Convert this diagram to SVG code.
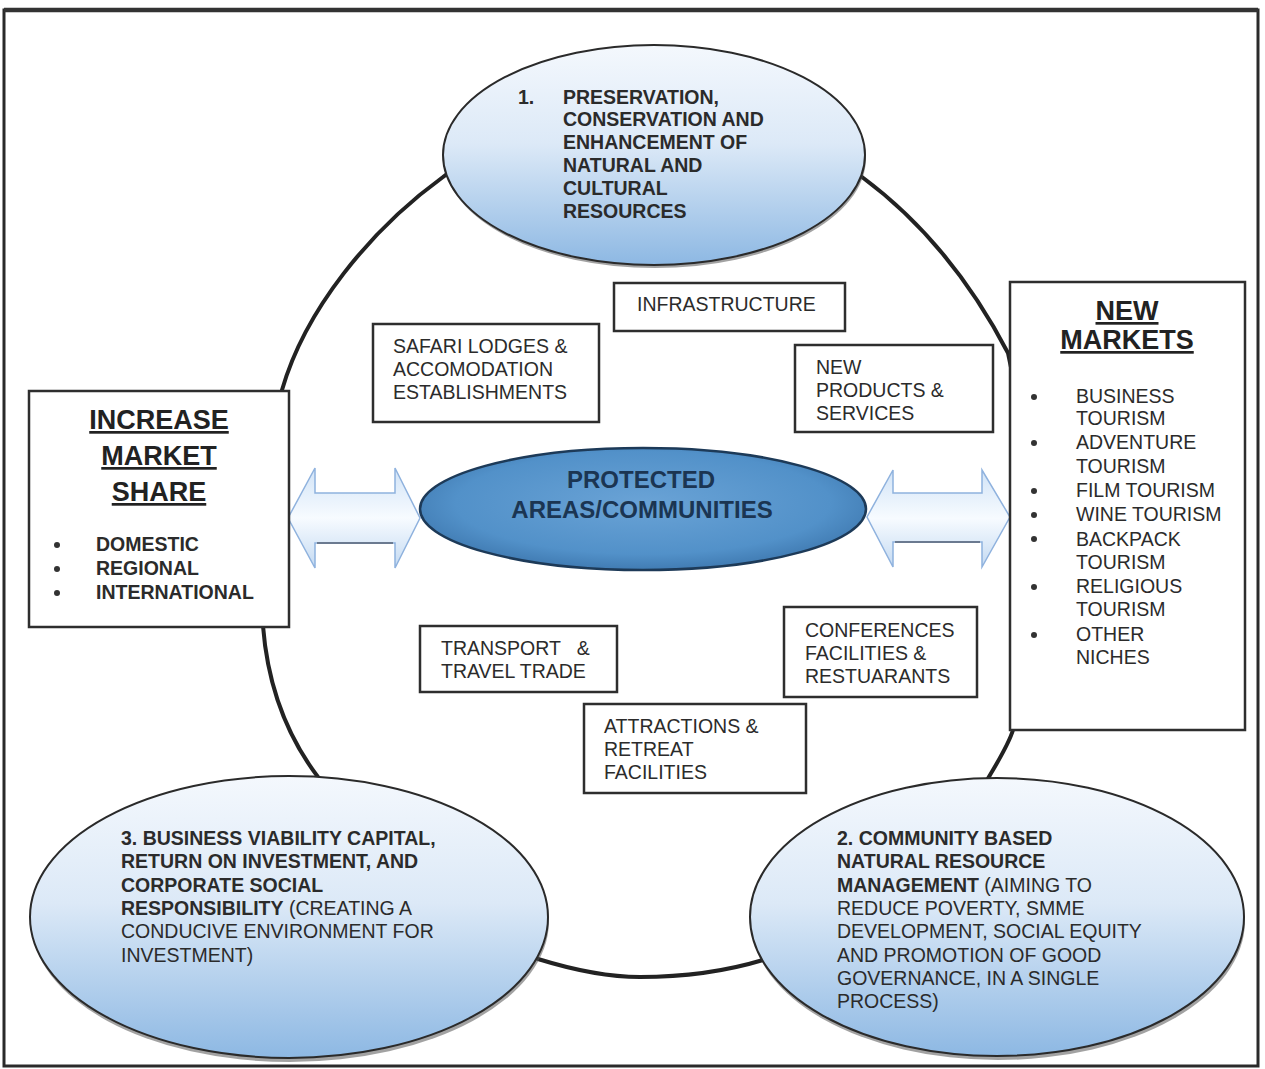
<svg xmlns="http://www.w3.org/2000/svg" width="1265" height="1069" viewBox="0 0 1265 1069">
<defs>
<linearGradient id="gOval" x1="0" y1="0" x2="0" y2="1">
<stop offset="0" stop-color="#f4f8fd"/>
<stop offset="0.45" stop-color="#dce9f7"/>
<stop offset="1" stop-color="#8db8e3"/>
</linearGradient>
<radialGradient id="gCenter" cx="0.5" cy="0.45" r="0.6">
<stop offset="0" stop-color="#6aa3d6"/>
<stop offset="0.7" stop-color="#5291c9"/>
<stop offset="1" stop-color="#3a73aa"/>
</radialGradient>
<linearGradient id="gArrow" x1="0" y1="0" x2="0" y2="1">
<stop offset="0" stop-color="#d2e4f7"/>
<stop offset="0.5" stop-color="#f7fbff"/>
<stop offset="1" stop-color="#c4daf2"/>
</linearGradient>
<style>
.t{font-family:"Liberation Sans",Arial,sans-serif;font-size:19.5px;fill:#2b2b2b}
.b{font-weight:bold}
.ttl{font-family:"Liberation Sans",Arial,sans-serif;font-size:27px;font-weight:bold;fill:#222;text-decoration:underline;text-anchor:middle}
.box{fill:#fff;stroke:#2e2e2e;stroke-width:2.5}
.oval{fill:url(#gOval);stroke:#2a2a2a;stroke-width:2}
.shadow{fill:#555;opacity:0.55}
.arrow{fill:url(#gArrow);stroke:#8fb2de;stroke-width:1.5}
.dot{fill:#333}
</style>
</defs>
<rect x="0" y="0" width="1265" height="1069" fill="#fff"/>
<rect x="4" y="10" width="1254" height="1056" fill="#fff" stroke="#2a2a2a" stroke-width="3"/>
<line x1="4" y1="10" x2="1258" y2="10" stroke="#333" stroke-width="4.5"/>

<g id="connectors">
<path d="M 443,177 C 370,230 305,310 282,390 C 268,440 256,540 263,626 C 268,690 290,740 318,777 C 380,860 460,930 538,959 C 580,972 610,977 640,977 C 690,977 730,970 763,960 C 850,930 950,850 990,775 C 1005,750 1010,740 1013,730 C 1030,600 1030,450 1008,353 C 970,280 920,220 862,177 C 760,100 540,100 443,177 Z" fill="none" stroke="#222" stroke-width="4"/>
<path id="arrow-left" class="arrow" d="M 288,518 L 315,468 L 315,493 L 395,493 L 395,468 L 420,518 L 395,568 L 395,543 L 315,543 L 315,568 Z"/>
<line x1="317" y1="543" x2="393" y2="543" stroke="#6b7a90" stroke-width="2"/>
<path id="arrow-right" class="arrow" d="M 867,517 L 893,470 L 893,493 L 982,493 L 982,470 L 1010,517 L 982,567 L 982,542 L 893,542 L 893,567 Z"/>
<line x1="895" y1="542" x2="980" y2="542" stroke="#6b7a90" stroke-width="2"/>
</g>

<g id="node-preservation">
<ellipse class="shadow" cx="655" cy="158" rx="211" ry="110"/>
<ellipse class="oval" cx="654" cy="155" rx="211" ry="110"/>
<text class="t b" x="518" y="104">1.</text>
<text class="t b" x="563" y="104">PRESERVATION,</text>
<text class="t b" x="563" y="126">CONSERVATION AND</text>
<text class="t b" x="563" y="149">ENHANCEMENT OF</text>
<text class="t b" x="563" y="172">NATURAL AND</text>
<text class="t b" x="563" y="195">CULTURAL</text>
<text class="t b" x="563" y="218">RESOURCES</text>
</g>

<g id="node-infrastructure">
<rect class="box" x="614" y="283" width="231" height="48"/>
<text class="t" x="637" y="311">INFRASTRUCTURE</text>
</g>

<g id="node-safari">
<rect class="box" x="373" y="324" width="226" height="98"/>
<text class="t" x="393" y="353">SAFARI LODGES &amp;</text>
<text class="t" x="393" y="376">ACCOMODATION</text>
<text class="t" x="393" y="399">ESTABLISHMENTS</text>
</g>

<g id="node-products">
<rect class="box" x="795" y="345" width="198" height="87"/>
<text class="t" x="816" y="374">NEW</text>
<text class="t" x="816" y="397">PRODUCTS &amp;</text>
<text class="t" x="816" y="420">SERVICES</text>
</g>

<g id="node-increase">
<rect class="box" x="29" y="391" width="260" height="236"/>
<text class="ttl" x="159" y="429" font-size="29">INCREASE</text>
<text class="ttl" x="159" y="465" font-size="29">MARKET</text>
<text class="ttl" x="159" y="501" font-size="29">SHARE</text>
<circle class="dot" cx="57" cy="545" r="3"/>
<circle class="dot" cx="57" cy="569" r="3"/>
<circle class="dot" cx="57" cy="593" r="3"/>
<text class="t b" x="96" y="551" font-size="18.5">DOMESTIC</text>
<text class="t b" x="96" y="575" font-size="18.5">REGIONAL</text>
<text class="t b" x="96" y="599" font-size="18.5">INTERNATIONAL</text>
</g>

<g id="node-new-markets">
<rect class="box" x="1010" y="282" width="235" height="448"/>
<text class="ttl" x="1127" y="320">NEW</text>
<text class="ttl" x="1127" y="349">MARKETS</text>
<circle class="dot" cx="1034" cy="397" r="3"/>
<circle class="dot" cx="1034" cy="443" r="3"/>
<circle class="dot" cx="1034" cy="491" r="3"/>
<circle class="dot" cx="1034" cy="515" r="3"/>
<circle class="dot" cx="1034" cy="539" r="3"/>
<circle class="dot" cx="1034" cy="587" r="3"/>
<circle class="dot" cx="1034" cy="635" r="3"/>
<text class="t" x="1076" y="403">BUSINESS</text>
<text class="t" x="1076" y="425">TOURISM</text>
<text class="t" x="1076" y="449">ADVENTURE</text>
<text class="t" x="1076" y="473">TOURISM</text>
<text class="t" x="1076" y="497">FILM TOURISM</text>
<text class="t" x="1076" y="521">WINE TOURISM</text>
<text class="t" x="1076" y="546">BACKPACK</text>
<text class="t" x="1076" y="569">TOURISM</text>
<text class="t" x="1076" y="593">RELIGIOUS</text>
<text class="t" x="1076" y="616">TOURISM</text>
<text class="t" x="1076" y="641">OTHER</text>
<text class="t" x="1076" y="664">NICHES</text>
</g>

<g id="node-protected">
<ellipse cx="643" cy="509" rx="223" ry="61" fill="url(#gCenter)" stroke="#1d3a58" stroke-width="2.5"/>
<text x="641" y="488" text-anchor="middle" font-family="'Liberation Sans',Arial,sans-serif" font-size="24" font-weight="bold" fill="#1b3552">PROTECTED</text>
<text x="642" y="518" text-anchor="middle" font-family="'Liberation Sans',Arial,sans-serif" font-size="24" font-weight="bold" fill="#1b3552">AREAS/COMMUNITIES</text>
</g>

<g id="node-transport">
<rect class="box" x="420" y="626" width="197" height="66"/>
<text class="t" x="441" y="655" xml:space="preserve">TRANSPORT   &amp;</text>
<text class="t" x="441" y="678">TRAVEL TRADE</text>
</g>

<g id="node-conferences">
<rect class="box" x="784" y="607" width="193" height="90"/>
<text class="t" x="805" y="637">CONFERENCES</text>
<text class="t" x="805" y="660">FACILITIES &amp;</text>
<text class="t" x="805" y="683">RESTUARANTS</text>
</g>

<g id="node-attractions">
<rect class="box" x="584" y="704" width="222" height="89"/>
<text class="t" x="604" y="733">ATTRACTIONS &amp;</text>
<text class="t" x="604" y="756">RETREAT</text>
<text class="t" x="604" y="779">FACILITIES</text>
</g>

<g id="node-business">
<ellipse class="shadow" cx="290" cy="921" rx="259" ry="141"/>
<ellipse class="oval" cx="289" cy="917" rx="259" ry="141"/>
<text class="t b" x="121" y="845">3. BUSINESS VIABILITY CAPITAL,</text>
<text class="t b" x="121" y="868">RETURN ON INVESTMENT, AND</text>
<text class="t b" x="121" y="892">CORPORATE SOCIAL</text>
<text class="t" x="121" y="915"><tspan class="b">RESPONSIBILITY</tspan> (CREATING A</text>
<text class="t" x="121" y="938">CONDUCIVE ENVIRONMENT FOR</text>
<text class="t" x="121" y="962">INVESTMENT)</text>
</g>

<g id="node-community">
<ellipse class="shadow" cx="998" cy="921" rx="247" ry="139"/>
<ellipse class="oval" cx="997" cy="917" rx="247" ry="139"/>
<text class="t b" x="837" y="845">2. COMMUNITY BASED</text>
<text class="t b" x="837" y="868">NATURAL RESOURCE</text>
<text class="t" x="837" y="892"><tspan class="b">MANAGEMENT</tspan> (AIMING TO</text>
<text class="t" x="837" y="915">REDUCE POVERTY, SMME</text>
<text class="t" x="837" y="938">DEVELOPMENT, SOCIAL EQUITY</text>
<text class="t" x="837" y="962">AND PROMOTION OF GOOD</text>
<text class="t" x="837" y="985">GOVERNANCE, IN A SINGLE</text>
<text class="t" x="837" y="1008">PROCESS)</text>
</g>
</svg>
